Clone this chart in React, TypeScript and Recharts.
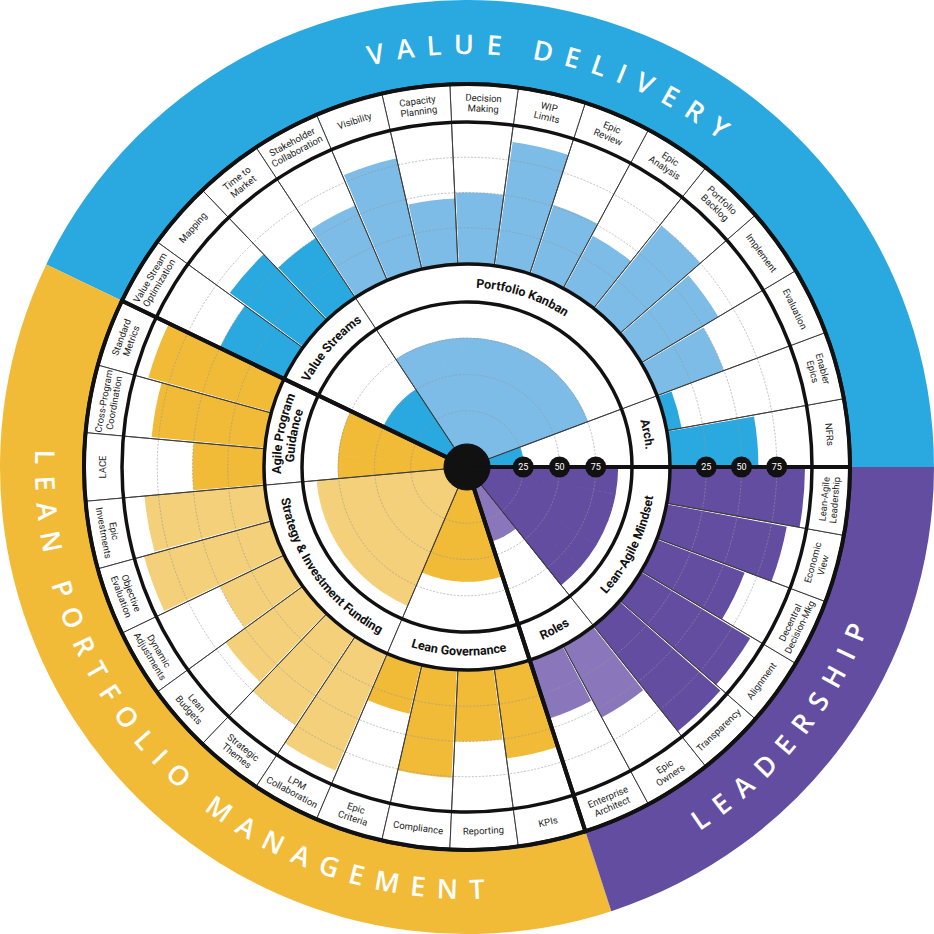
import React from "react";
import {
  PieChart,
  Pie,
  Cell,
  RadialBarChart,
  RadialBar,
  PolarAngleAxis,
  PolarRadiusAxis,
  PolarGrid,
} from "recharts";

const SIZE = 934;
const RAD = Math.PI / 180;

// ring radii (px)
const R_EDGE = 467;
const R_RING_OUT = 383;
const R_RING_IN = 345;
const R_BAR_BASE = 204;
const R_GROUP_OUT = 203;
const R_GROUP_IN = 165;
const R_CORE_BASE = 20;
const R_HUB = 23;

/* ---------- data ---------- */

const domainNames = ["VALUE DELIVERY", "LEAN PORTFOLIO MANAGEMENT", "LEADERSHIP"];
const domainSizes = [15, 13, 7];
const domainColors = ["#29A9E0", "#F1BB38", "#634DA0"];

const groupNames = [
  "Arch.",
  "Portfolio Kanban",
  "Value Streams",
  "Agile Program\nGuidance",
  "Strategy & Investment Funding",
  "Lean Governance",
  "Roles",
  "Lean-Agile Mindset",
];
const groupSizes = [2, 10, 3, 3, 6, 4, 2, 5];
const groupValues = [25, 75, 50, 75, 90, 65, 40, 90];
const groupColors = ["#29A9E0", "#7DBCE7", "#29A9E0", "#F1BB38", "#F5D07B", "#F1BB38", "#8A77BB", "#634DA0"];

// counter-clockwise from 3 o'clock
const practiceLabels = [
  "NFRs", "Enabler\nEpics", "Evaluation", "Implement", "Portfolio\nBacklog",
  "Epic\nAnalysis", "Epic\nReview", "WIP\nLimits", "Decision\nMaking", "Capacity\nPlanning",
  "Visibility", "Stakeholder\nCollaboration", "Time to\nMarket", "Mapping", "Value Stream\nOptimization",
  "Standard\nMetrics", "Cross-Program\nCoordination", "LACE", "Epic\nInvestments", "Objective\nEvaluation",
  "Dynamic\nAdjustments", "Lean\nBudgets", "Strategic\nThemes", "LPM\nCollaboration", "Epic\nCriteria",
  "Compliance", "Reporting", "KPIs", "Enterprise\nArchitect", "Epic\nOwners",
  "Transparency", "Alignment", "Decentral\nDecision-Mkg", "Economic\nView", "Lean-Agile\nLeadership",
];
const practiceValues = [
  62, 10, 50, 63, 75,
  42, 51, 88, 50, 46,
  80, 57, 50, 64, 50,
  90, 80, 50, 85, 93,
  50, 67, 75, 90, 35,
  76, 50, 64, 43, 57,
  95, 90, 66, 86, 95,
];
const scaleTicks = [25, 50, 75];

/* ---------- tables for the library ---------- */

const groupIndex = groupSizes.flatMap((n, g) => Array.from({ length: n }, () => g));
const practiceData = practiceLabels.map((name, i) => ({
  name,
  value: practiceValues[i],
  core: groupValues[groupIndex[i]],
  color: groupColors[groupIndex[i]],
}));
const slotData = practiceLabels.map((name) => ({ name, slot: 1 }));
const groupData = groupNames.map((name, i) => ({ name, size: groupSizes[i] }));
const domainData = domainNames.map((name, i) => ({ name, size: domainSizes[i] }));
const wholeRing = [{ name: "ring", slot: 1 }];

// the polar band axis draws each bar one band early; start the angle axis one band later
const BAND = 360 / practiceLabels.length;
const domainLabelOffset = ["50%", "53.5%", "46%"];

const noMargin = { top: 0, right: 0, bottom: 0, left: 0 };
const layer: React.CSSProperties = { position: "absolute", left: 0, top: 0, width: SIZE, height: SIZE };

function arcPath(cx: number, cy: number, r: number, a0: number, a1: number, clockwise: boolean) {
  const pt = (a: number) => `${cx + r * Math.cos(a * RAD)} ${cy - r * Math.sin(a * RAD)}`;
  const large = Math.abs(a1 - a0) > 180 ? 1 : 0;
  return clockwise
    ? `M ${pt(a1)} A ${r} ${r} 0 ${large} 1 ${pt(a0)}`
    : `M ${pt(a0)} A ${r} ${r} 0 ${large} 0 ${pt(a1)}`;
}

/* ---------- labels ---------- */

function DomainLabel(props: any) {
  const { cx, cy, startAngle, endAngle, midAngle, index } = props;
  const top = midAngle < 180;
  const r = top ? 413 : 432;
  const id = `domain-arc-${index}`;
  return (
    <g>
      <path id={id} d={arcPath(cx, cy, r, startAngle, endAngle, top)} fill="none" stroke="none" />
      <text fill="#ffffff" fontSize={27} fontWeight={600} letterSpacing={12} fontFamily="'Open Sans', sans-serif">
        <textPath href={`#${id}`} startOffset={domainLabelOffset[index]} textAnchor="middle">
          {domainNames[index]}
        </textPath>
      </text>
    </g>
  );
}

function GroupLabel(props: any) {
  const { cx, cy, startAngle, endAngle, midAngle, index } = props;
  const top = midAngle < 180;
  const mid = (R_GROUP_IN + R_GROUP_OUT) / 2;
  const lines = groupNames[index].split("\n");
  const radii =
    lines.length === 1
      ? [top ? mid - 4.5 : mid + 4.5]
      : top
      ? [mid + 2, mid - 11]
      : [mid - 2, mid + 11];
  return (
    <g>
      {lines.map((ln, k) => {
        const id = `group-arc-${index}-${k}`;
        return (
          <g key={id}>
            <path id={id} d={arcPath(cx, cy, radii[k], startAngle, endAngle, top)} fill="none" stroke="none" />
            <text fill="#111" fontSize={12.5} fontWeight={700} fontFamily="Roboto, sans-serif">
              <textPath href={`#${id}`} startOffset="50%" textAnchor="middle">
                {ln}
              </textPath>
            </text>
          </g>
        );
      })}
    </g>
  );
}

function PracticeLabel(props: any) {
  const { cx, cy, midAngle, index } = props;
  const r = (R_RING_IN + R_RING_OUT) / 2;
  const x = cx + r * Math.cos(midAngle * RAD);
  const y = cy - r * Math.sin(midAngle * RAD);
  const rot = midAngle < 180 ? 90 - midAngle : 270 - midAngle;
  const lines = practiceLabels[index].split("\n");
  const lh = 10.5;
  return (
    <g transform={`translate(${x},${y}) rotate(${rot})`}>
      <text textAnchor="middle" fontSize={9.5} fontFamily="Roboto, sans-serif" fill="#1e1e1e">
        {lines.map((ln, k) => (
          <tspan key={k} x={0} y={(k - (lines.length - 1) / 2) * lh + 3.3}>
            {ln}
          </tspan>
        ))}
      </text>
    </g>
  );
}

function renderBadge(props: any) {
  const { x, y, payload } = props;
  if (!scaleTicks.includes(payload.value)) return <g />;
  return (
    <g>
      <circle cx={x} cy={y} r={10.5} fill="#111" />
      <text x={x} y={y + 3.2} textAnchor="middle" fontSize={9} fill="#fff" fontFamily="Roboto, sans-serif">
        {payload.value}
      </text>
    </g>
  );
}

/* ---------- layers ---------- */

function BarsLayer({ inner, outer, dataKey }: { inner: number; outer: number; dataKey: string }) {
  return (
    <div style={layer}>
      <RadialBarChart
        width={SIZE}
        height={SIZE}
        data={practiceData}
        layout="centric"
        innerRadius={inner}
        outerRadius={outer}
        startAngle={BAND}
        endAngle={360 + BAND}
        barCategoryGap="0%"
        barGap={0}
        margin={noMargin}
      >
        <PolarAngleAxis type="category" dataKey="name" tick={false} axisLine={false} />
        <PolarRadiusAxis type="number" domain={[0, 100]} tickCount={5} tick={false} axisLine={false} />
        <RadialBar dataKey={dataKey} isAnimationActive={false}>
          {practiceData.map((d) => (
            <Cell key={d.name} fill={d.color} stroke={dataKey === "core" ? d.color : "none"} strokeWidth={1.2} />
          ))}
        </RadialBar>
      </RadialBarChart>
    </div>
  );
}

function GridLayer({ inner, outer }: { inner: number; outer: number }) {
  return (
    <div style={layer}>
      <RadialBarChart
        width={SIZE}
        height={SIZE}
        data={practiceData}
        layout="centric"
        innerRadius={inner}
        outerRadius={outer}
        startAngle={0}
        endAngle={360}
        margin={noMargin}
      >
        <PolarGrid gridType="circle" radialLines={false} stroke="#959595" strokeWidth={0.6} strokeDasharray="2 1.5" />
        <PolarAngleAxis type="category" dataKey="name" tick={false} axisLine={false} />
        <PolarRadiusAxis type="number" domain={[0, 100]} tickCount={5} tick={false} axisLine={false} />
        <RadialBar dataKey="value" fill="none" stroke="none" isAnimationActive={false} />
      </RadialBarChart>
    </div>
  );
}

function BadgeLayer({ inner, outer }: { inner: number; outer: number }) {
  return (
    <div style={layer}>
      <RadialBarChart
        width={SIZE}
        height={SIZE}
        data={practiceData}
        layout="centric"
        innerRadius={inner}
        outerRadius={outer}
        startAngle={0}
        endAngle={360}
        margin={noMargin}
      >
        <PolarAngleAxis type="category" dataKey="name" tick={false} axisLine={false} />
        <PolarRadiusAxis
          type="number"
          angle={0}
          domain={[0, 100]}
          tickCount={5}
          tick={renderBadge}
          axisLine={false}
          tickLine={false}
        />
        <RadialBar dataKey="value" fill="none" stroke="none" isAnimationActive={false} />
      </RadialBarChart>
    </div>
  );
}

export default function App() {
  return (
    <div style={{ position: "absolute", left: 0, top: 0, width: SIZE, height: SIZE, background: "#fff", overflow: "hidden" }}>
      {/* outer coloured band */}
      <div style={layer}>
        <PieChart width={SIZE} height={SIZE} margin={noMargin}>
          <Pie
            data={domainData}
            dataKey="size"
            startAngle={0}
            endAngle={360}
            innerRadius={R_RING_OUT}
            outerRadius={R_EDGE}
            stroke="none"
            label={DomainLabel}
            labelLine={false}
            isAnimationActive={false}
          >
            {domainData.map((d, i) => (
              <Cell key={d.name} fill={domainColors[i]} />
            ))}
          </Pie>
        </PieChart>
      </div>

      <BarsLayer inner={R_BAR_BASE} outer={R_RING_IN} dataKey="value" />
      <BarsLayer inner={R_CORE_BASE} outer={R_GROUP_IN} dataKey="core" />
      <GridLayer inner={R_BAR_BASE} outer={R_RING_IN} />
      <GridLayer inner={R_CORE_BASE} outer={R_GROUP_IN} />

      {/* rings, separators, labels */}
      <div style={layer}>
        <PieChart width={SIZE} height={SIZE} margin={noMargin}>
          <Pie
            data={slotData}
            dataKey="slot"
            startAngle={0}
            endAngle={360}
            innerRadius={R_RING_IN}
            outerRadius={R_RING_OUT}
            fill="#ffffff"
            stroke="#3a3a3a"
            strokeWidth={1}
            label={PracticeLabel}
            labelLine={false}
            isAnimationActive={false}
          />
          <Pie
            data={slotData}
            dataKey="slot"
            startAngle={0}
            endAngle={360}
            innerRadius={R_GROUP_OUT}
            outerRadius={R_RING_IN}
            fill="none"
            stroke="#3a3a3a"
            strokeWidth={0.9}
            isAnimationActive={false}
          />
          <Pie
            data={groupData}
            dataKey="size"
            startAngle={0}
            endAngle={360}
            innerRadius={R_GROUP_IN}
            outerRadius={R_GROUP_OUT}
            fill="#ffffff"
            stroke="#3a3a3a"
            strokeWidth={1}
            label={GroupLabel}
            labelLine={false}
            isAnimationActive={false}
          />
          <Pie
            data={groupData}
            dataKey="size"
            startAngle={0}
            endAngle={360}
            innerRadius={0}
            outerRadius={R_GROUP_IN}
            fill="none"
            stroke="#3a3a3a"
            strokeWidth={0.9}
            isAnimationActive={false}
          />
          <Pie
            data={wholeRing}
            dataKey="slot"
            startAngle={0}
            endAngle={360}
            innerRadius={R_RING_IN}
            outerRadius={R_RING_OUT}
            fill="none"
            stroke="#111"
            strokeWidth={3.5}
            isAnimationActive={false}
          />
          <Pie
            data={wholeRing}
            dataKey="slot"
            startAngle={0}
            endAngle={360}
            innerRadius={R_GROUP_IN}
            outerRadius={R_GROUP_OUT}
            fill="none"
            stroke="#111"
            strokeWidth={3.5}
            isAnimationActive={false}
          />
          <Pie
            data={domainData}
            dataKey="size"
            startAngle={0}
            endAngle={360}
            innerRadius={0}
            outerRadius={R_RING_OUT}
            fill="none"
            stroke="#111"
            strokeWidth={4}
            isAnimationActive={false}
          />
          <Pie
            data={wholeRing}
            dataKey="slot"
            startAngle={0}
            endAngle={360}
            innerRadius={0}
            outerRadius={R_HUB}
            fill="#111"
            stroke="#111"
            isAnimationActive={false}
          />
          <Pie
            data={wholeRing}
            dataKey="slot"
            startAngle={0}
            endAngle={360}
            innerRadius={0}
            outerRadius={2}
            fill="#fff"
            stroke="none"
            isAnimationActive={false}
          />
        </PieChart>
      </div>

      <BadgeLayer inner={R_BAR_BASE} outer={R_RING_IN} />
      <BadgeLayer inner={R_CORE_BASE} outer={R_GROUP_IN} />
    </div>
  );
}
